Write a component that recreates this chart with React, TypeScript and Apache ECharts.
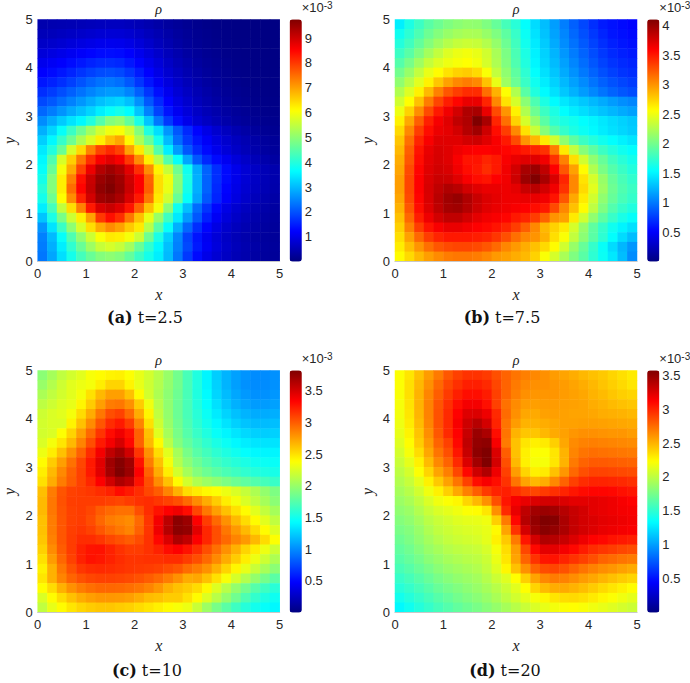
import React, { useEffect, useRef } from "react";
import * as echarts from "echarts";

// grid cell centres (x and y) shared by all four panels
const cellCentres = ["0.1","0.3","0.5","0.7","0.9","1.1","1.3","1.5","1.7","1.9","2.1","2.3","2.5","2.7","2.9","3.1","3.3","3.5","3.7","3.9","4.1","4.3","4.5","4.7","4.9"];

// rho values in units of 1e-5, rows from y=4.9 (top) to y=0.1 (bottom), columns x=0.1..4.9
const rhoA = [
[44,46,48,50,53,56,59,60,60,57,52,45,37,30,24,18,13,10,7,6,5,4,3,3,3],
[54,56,60,65,70,75,80,82,81,76,68,58,48,38,29,22,16,12,9,7,5,4,3,3,3],
[68,72,78,85,92,98,104,106,104,97,85,72,58,46,35,26,19,14,11,8,6,5,4,3,3],
[85,92,100,108,117,125,131,133,130,120,105,88,72,57,44,33,25,18,14,10,8,6,5,4,4],
[105,112,120,131,143,153,161,163,158,143,124,104,85,67,52,40,30,22,17,12,9,7,5,5,4],
[122,130,142,155,170,183,193,197,190,172,147,122,98,78,61,47,36,27,20,15,11,8,6,5,5],
[142,152,166,182,200,217,230,236,228,205,172,141,112,90,71,55,42,32,24,18,13,10,7,6,6],
[165,178,195,212,230,248,262,270,268,248,212,172,135,106,82,64,50,38,29,22,16,12,9,7,6],
[190,205,225,245,265,285,305,318,325,305,260,205,160,122,95,75,58,45,35,27,20,15,11,9,8],
[220,240,262,285,305,325,350,370,385,365,310,245,185,140,108,86,67,53,42,33,25,19,14,11,10],
[255,285,315,340,360,395,445,490,505,460,390,310,235,175,132,102,80,64,51,40,31,24,18,14,12],
[290,325,370,420,470,520,565,595,605,565,490,395,335,265,205,160,125,98,76,60,47,36,27,20,16],
[320,360,415,470,530,575,625,670,695,615,530,465,385,300,225,175,140,115,92,75,60,48,37,28,22],
[345,395,465,570,645,730,790,815,790,700,630,545,445,350,270,205,160,130,105,85,68,54,42,32,25],
[360,440,570,655,740,810,860,880,860,800,720,625,540,445,370,280,205,160,130,108,86,69,54,42,32],
[370,465,600,690,790,870,925,945,925,880,810,720,620,555,470,380,285,215,165,130,103,82,66,53,43],
[385,490,625,730,840,905,950,965,945,900,855,760,640,595,495,390,290,215,165,130,103,82,66,53,43],
[400,490,625,750,850,910,960,975,950,905,855,765,640,590,490,385,290,215,160,124,98,78,63,51,41],
[385,470,610,720,820,895,945,955,935,890,830,740,630,565,465,370,280,205,155,118,92,72,57,45,36],
[350,430,550,640,730,830,890,905,885,835,760,670,600,500,380,305,225,170,128,98,77,61,48,39,32],
[310,390,480,560,625,700,800,840,810,740,670,590,510,425,345,270,205,150,112,87,68,54,43,35,29],
[265,340,420,500,570,640,690,720,700,660,630,540,450,370,290,220,165,125,95,74,59,47,38,31,26],
[245,300,370,440,505,560,605,630,625,600,560,470,390,320,250,185,140,108,84,66,53,42,34,28,24],
[240,290,350,410,465,515,555,570,555,520,465,410,360,305,245,190,145,112,88,70,56,45,37,30,26],
[235,280,335,385,430,465,490,500,490,460,420,385,350,300,235,175,130,100,80,65,52,43,35,28,24],
];

const rhoB = [
[148,165,178,190,198,205,210,213,212,205,195,182,170,155,140,128,115,102,90,80,70,62,58,55,52],
[160,172,185,198,207,215,220,223,222,215,205,192,176,158,143,130,117,105,93,83,74,66,60,57,54],
[168,180,194,207,218,227,233,236,234,226,214,198,180,161,146,133,120,108,97,87,78,70,64,60,57],
[178,190,205,220,232,243,249,252,248,238,222,204,184,165,149,136,124,112,101,91,82,74,68,64,61],
[188,202,218,233,243,250,254,257,252,240,224,206,186,167,151,138,127,116,105,95,86,78,72,68,65],
[200,215,232,248,258,268,275,278,272,255,232,212,192,172,155,142,131,120,110,100,91,83,77,72,69],
[212,228,245,262,280,295,305,310,305,282,248,218,197,177,160,147,136,126,116,107,98,90,84,79,75],
[225,243,262,285,308,325,335,342,342,315,288,256,225,190,167,153,142,132,123,114,106,98,91,86,82],
[238,257,282,310,332,348,358,368,368,345,305,268,240,210,185,165,153,145,138,132,126,120,114,109,105],
[250,275,303,330,350,365,378,392,395,368,330,300,262,225,198,178,165,154,147,141,135,130,125,120,116],
[262,292,322,347,363,372,385,392,411,395,345,315,275,240,215,190,172,165,160,154,150,145,140,136,132],
[272,305,335,355,367,370,378,390,398,380,355,335,305,268,235,208,188,175,165,158,152,147,142,138,134],
[280,315,345,362,372,372,372,378,380,372,362,350,330,300,285,265,238,212,192,178,168,160,154,149,144],
[285,322,352,368,375,372,366,362,360,360,362,358,355,350,345,340,310,265,232,208,192,178,168,160,155],
[290,325,355,370,376,372,362,352,352,345,350,362,368,372,372,365,340,308,270,238,212,195,180,170,162],
[293,330,358,372,378,375,365,355,350,342,350,365,378,395,400,385,360,325,295,258,225,203,188,177,168],
[296,332,360,374,381,380,372,362,355,352,360,365,380,400,411,395,375,345,305,268,240,215,195,183,174],
[296,332,360,376,385,392,388,378,372,368,368,366,370,382,388,378,365,340,305,272,245,218,198,186,178],
[293,330,358,375,388,398,402,392,382,374,370,366,366,368,368,365,352,325,292,265,238,212,195,183,175],
[288,325,355,373,386,396,398,390,380,372,368,365,362,360,355,350,330,305,282,258,230,205,187,175,167],
[282,318,348,366,378,385,385,378,370,365,362,358,350,345,335,320,300,295,265,238,212,192,176,164,156],
[276,308,335,352,362,368,368,364,360,357,352,345,335,322,305,285,275,265,240,215,192,175,160,150,142],
[270,295,318,335,345,350,350,350,348,345,338,328,315,305,300,288,270,255,232,210,190,172,155,140,128],
[264,283,300,315,325,330,332,332,330,325,317,306,298,290,282,272,258,238,215,195,175,157,140,125,112],
[258,272,285,296,304,310,312,312,310,305,298,295,290,285,275,255,240,222,205,190,172,158,145,128,108],
];

const rhoC = [
[195,205,215,222,228,236,240,243,244,238,230,222,212,200,186,170,155,140,125,115,108,103,100,100,102],
[200,210,220,228,232,235,245,255,255,243,230,220,210,198,186,170,155,140,126,115,107,102,100,100,102],
[207,215,222,228,235,250,265,275,275,262,240,222,208,196,184,170,155,142,128,118,110,105,102,102,104],
[214,220,226,230,242,258,275,288,290,280,258,233,212,197,183,170,156,144,132,122,114,109,106,106,108],
[220,225,228,235,252,270,290,305,310,295,270,242,215,198,183,170,158,147,136,127,120,115,112,112,113],
[222,225,225,243,262,282,302,318,325,312,285,250,220,200,185,172,160,150,141,133,126,121,118,118,119],
[222,225,238,255,275,295,315,330,340,328,298,262,227,205,188,175,164,155,146,140,134,129,126,125,126],
[225,235,248,265,285,305,325,338,350,332,298,265,240,212,192,180,170,161,153,147,141,137,134,133,133],
[232,245,262,280,298,318,338,358,368,352,315,280,252,228,205,188,176,168,160,154,149,144,141,140,140],
[240,258,275,292,308,325,345,370,380,370,328,288,262,235,210,195,184,175,168,162,157,153,149,147,146],
[245,265,283,298,310,325,345,368,382,372,335,298,270,245,222,205,192,184,177,171,166,161,157,154,152],
[250,270,288,300,310,320,335,352,365,358,328,305,282,262,240,222,209,202,196,190,184,179,174,169,164],
[263,288,303,310,312,314,318,322,330,325,318,308,300,285,268,252,246,241,238,232,225,217,208,198,190],
[265,290,304,311,312,312,312,310,308,312,316,318,314,310,305,295,282,270,258,245,235,225,215,205,195],
[265,290,303,310,312,308,300,295,292,292,305,318,328,335,340,330,308,290,275,262,250,240,228,216,205],
[262,288,302,310,312,306,296,288,285,282,295,315,338,360,378,372,335,312,295,280,265,252,240,228,215],
[262,288,302,311,314,310,302,295,290,285,298,315,340,362,378,375,345,320,305,290,277,265,252,240,226],
[260,286,302,312,318,318,314,308,304,300,306,316,332,348,365,358,335,320,305,295,285,277,265,252,238],
[256,282,300,312,322,327,328,322,316,312,312,316,322,330,335,328,318,305,293,280,268,255,245,232,220],
[250,276,296,310,322,328,326,322,318,315,315,316,316,318,318,312,305,295,283,270,258,245,232,220,208],
[244,268,290,304,314,318,319,318,316,314,313,312,310,306,302,294,288,280,268,255,242,230,218,206,195],
[248,268,285,297,304,308,310,310,309,307,304,300,295,288,280,270,272,262,250,236,223,210,198,187,177],
[239,252,268,280,288,293,296,296,295,293,290,285,278,268,262,258,252,241,226,212,198,186,175,166,158],
[225,240,252,262,270,275,278,278,277,275,270,264,262,258,258,250,240,226,212,198,185,172,162,154,148],
[215,230,240,248,254,258,260,260,258,256,252,248,244,240,236,232,218,202,188,177,166,157,150,145,141],
];

const rhoD = [
[222,232,245,258,270,282,290,295,295,292,285,278,272,268,265,262,258,255,252,248,245,242,238,234,230],
[222,234,248,262,276,288,296,302,302,298,288,278,270,265,262,262,260,258,255,252,248,244,240,236,232],
[221,234,250,266,280,292,302,308,308,303,290,277,268,262,260,260,260,258,256,254,250,247,243,240,238],
[220,233,250,267,283,296,308,316,316,307,290,273,264,258,257,258,258,257,256,255,252,250,247,245,243],
[219,232,249,267,284,298,312,324,325,318,298,275,262,254,253,256,257,256,255,255,254,252,251,250,248],
[217,230,247,266,284,298,315,330,338,328,300,272,258,250,250,252,254,256,256,257,257,256,255,254,253],
[215,227,244,263,282,298,312,332,348,342,308,272,250,243,243,248,253,256,260,262,262,261,260,260,258],
[212,224,241,259,278,290,310,335,350,352,315,270,245,232,228,230,240,254,264,267,268,267,266,265,264],
[208,220,235,254,272,285,305,332,352,357,325,280,245,228,222,222,232,250,266,272,274,273,272,271,270],
[204,214,228,247,265,278,298,325,345,357,328,285,248,228,220,220,232,250,270,278,281,281,280,279,278],
[200,208,222,238,255,268,288,310,330,340,318,290,258,238,228,230,245,260,276,285,289,289,288,287,286],
[196,203,214,228,242,256,272,290,308,315,308,295,272,255,248,252,265,278,290,297,300,300,299,298,296],
[192,198,207,218,228,240,254,268,280,292,300,302,296,290,288,292,296,300,305,309,311,311,310,307,305],
[188,193,201,210,218,222,226,238,248,262,285,305,315,320,325,328,328,325,322,322,322,320,318,315,312],
[184,188,196,204,210,214,218,222,224,232,262,298,320,335,345,348,345,338,332,328,322,320,318,316,315],
[180,184,191,199,204,208,212,214,215,218,240,270,310,338,350,357,355,342,333,328,325,322,320,318,316],
[176,180,187,195,201,205,208,210,212,215,225,255,295,328,346,354,350,342,333,328,324,320,318,316,314],
[172,177,184,191,197,202,205,207,209,214,228,242,270,305,328,340,338,332,325,318,312,310,306,304,302],
[168,173,180,187,192,197,200,202,204,209,220,235,258,288,310,322,322,316,310,303,297,294,291,288,286],
[164,169,175,182,187,192,195,198,200,205,216,232,255,278,295,305,306,300,295,290,285,278,275,272,270],
[159,164,170,176,182,187,190,193,196,202,212,226,245,262,278,286,288,284,278,272,267,263,260,256,253],
[153,158,164,170,176,181,185,188,191,197,205,212,223,240,255,265,269,267,263,258,254,249,245,241,238],
[147,152,158,164,170,175,179,183,187,192,198,205,213,223,238,247,252,253,250,246,241,236,232,228,224],
[140,146,152,158,164,169,174,178,182,187,193,200,207,214,220,226,232,235,236,234,230,226,222,218,214],
[132,139,146,152,158,163,168,172,176,181,186,192,198,204,210,215,219,222,223,221,218,215,212,208,205],
];

// colour-bar ranges and ticks (units of 1e-3)
const barMaxes = [9.75, 4.11, 3.82, 3.57];
const ticksA = [1, 2, 3, 4, 5, 6, 7, 8, 9];
const ticksB = [0.5, 1, 1.5, 2, 2.5, 3, 3.5, 4];
const ticksC = [0.5, 1, 1.5, 2, 2.5, 3, 3.5];
const ticksD = [0.5, 1, 1.5, 2, 2.5, 3, 3.5];
const captionLetters = ["(a)", "(b)", "(c)", "(d)"];
const captionTimes = ["t=2.5", "t=7.5", "t=10", "t=20"];

const jet = ["#000080", "#0000ff", "#0080ff", "#00ffff", "#80ff80", "#ffff00", "#ff8000", "#ff0000", "#800000"];
const SANS = "'Liberation Sans', Arial, sans-serif";
const SERIF = "'Liberation Serif', 'Times New Roman', serif";
const CAPTION = "'DejaVu Serif', serif";

const panelRows = [rhoA, rhoB, rhoC, rhoD];
const panelTicks = [ticksA, ticksB, ticksC, ticksD];
const lefts = [37.7, 395, 37.7, 395];
const tops = [19.5, 19.5, 370.5, 370.5];
const barLefts = [289.7, 647.3, 289.7, 647.3];
const captionX = [145, 502, 147, 505];
const captionY = [318, 318, 671, 671];
const SIZE = 242;

function buildOption() {
  const grid: any[] = [], xAxis: any[] = [], yAxis: any[] = [], series: any[] = [];
  const visualMap: any[] = [], title: any[] = [];

  panelRows.forEach((rows, p) => {
    const g0 = grid.length;
    grid.push({ left: lefts[p], top: tops[p], width: SIZE, height: SIZE, outerBoundsMode: "none" });
    xAxis.push({ type: "category", gridIndex: g0, data: cellCentres, show: false });
    yAxis.push({ type: "category", gridIndex: g0, data: cellCentres, show: false });
    const data: number[][] = [];
    rows.forEach((row, r) => row.forEach((v, c) => data.push([c, rows.length - 1 - r, v / 100])));
    const sIdx = series.length;
    series.push({
      type: "heatmap", xAxisIndex: g0, yAxisIndex: g0, data, silent: true,
      itemStyle: { borderWidth: 0 }, emphasis: { disabled: true },
    });
    const g1 = grid.length;
    grid.push({ left: lefts[p], top: tops[p], width: SIZE, height: SIZE, z: 5, outerBoundsMode: "none" });
    xAxis.push({
      type: "value", gridIndex: g1, min: 0, max: 5, interval: 1, z: 5,
      name: "x", nameLocation: "middle", nameGap: 25,
      nameTextStyle: { fontFamily: SERIF, fontStyle: "italic", fontSize: 16, color: "#222" },
      splitLine: { show: false }, axisTick: { show: false },
      axisLine: { show: true, onZero: false, lineStyle: { color: "#c8c8c8", width: 1 } },
      axisLabel: { fontFamily: SANS, fontSize: 13, color: "#262626", margin: 5, hideOverlap: false },
    });
    yAxis.push({
      type: "value", gridIndex: g1, min: 0, max: 5, interval: 1, z: 5,
      name: "y", nameLocation: "middle", nameGap: 20, nameRotate: 90,
      nameTextStyle: { fontFamily: SERIF, fontStyle: "italic", fontSize: 16, color: "#222" },
      splitLine: { show: false }, axisTick: { show: false }, axisLine: { show: false },
      axisLabel: { fontFamily: SANS, fontSize: 13, color: "#262626", margin: 5, hideOverlap: false },
    });
    visualMap.push({
      type: "continuous", seriesIndex: sIdx, min: 0, max: barMaxes[p], calculable: false,
      left: barLefts[p], top: tops[p], itemWidth: 12, itemHeight: SIZE, padding: 0,
      text: null, showLabel: false, hoverLink: false, realtime: false,
      inRange: { color: jet }, outOfRange: { color: jet },
    });
    const g2 = grid.length;
    grid.push({ left: barLefts[p], top: tops[p], width: 12, height: SIZE, z: 5, outerBoundsMode: "none" });
    xAxis.push({ type: "value", gridIndex: g2, show: false, min: 0, max: 1 });
    yAxis.push({
      type: "value", gridIndex: g2, position: "right", min: 0, max: barMaxes[p], z: 5,
      splitLine: { show: false }, axisTick: { show: false }, axisLine: { show: false },
      axisLabel: { customValues: panelTicks[p], fontFamily: SANS, fontSize: 13, color: "#262626", margin: 3 },
    });
    title.push({
      text: "ρ", left: lefts[p] + SIZE / 2, top: tops[p] - 17, textAlign: "center", padding: 0,
      textStyle: { fontFamily: SERIF, fontStyle: "italic", fontWeight: "normal", fontSize: 14, color: "#222" },
    });
    title.push({
      text: `{b|${captionLetters[p]}} {r|${captionTimes[p]}}`,
      left: captionX[p], top: captionY[p] - 10, textAlign: "center", padding: 0,
      textStyle: {
        rich: {
          b: { fontFamily: CAPTION, fontWeight: "bold", fontSize: 16, color: "#111" },
          r: { fontFamily: CAPTION, fontWeight: "normal", fontSize: 16, color: "#111" },
        },
      },
    });
    title.push({
      text: "{m|×10}{s|-3}", left: barLefts[p] + 12, top: tops[p] - 19, padding: 0,
      textStyle: {
        rich: {
          m: { fontFamily: SANS, fontWeight: "normal", fontSize: 13, color: "#262626", verticalAlign: "bottom" },
          s: { fontFamily: SANS, fontWeight: "normal", fontSize: 10, color: "#262626", verticalAlign: "top" },
        },
      },
    });
  });

  return { animation: false, backgroundColor: "#fff", grid, xAxis, yAxis, series, visualMap, title };
}

export default function App() {
  const ref = useRef<HTMLDivElement>(null);
  useEffect(() => {
    document.body.style.margin = "0";
    const chart = echarts.init(ref.current!, undefined, { renderer: "svg" });
    chart.setOption(buildOption() as any);
    return () => chart.dispose();
  }, []);
  return <div ref={ref} style={{ width: 690, height: 683 }} />;
}
